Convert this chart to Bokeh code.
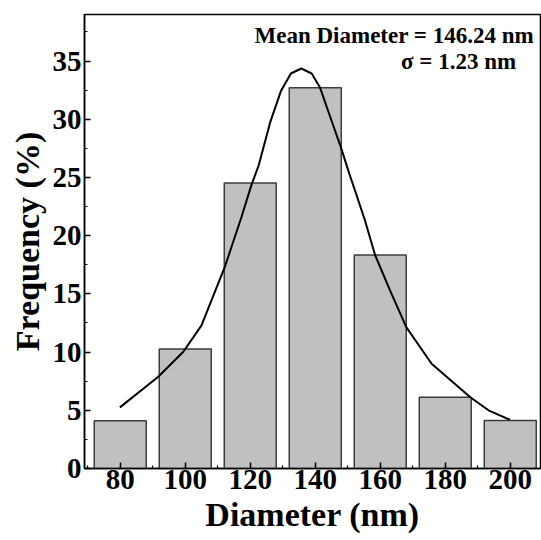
from bokeh.plotting import figure
from bokeh.models import Range1d, SingleIntervalTicker, Label
from bokeh.embed import file_html
from bokeh.resources import INLINE

# ---- data ----
diameters = [80, 100, 120, 140, 160, 180, 200]
frequency = [4.1, 10.26, 24.53, 32.7, 18.34, 6.12, 4.12]

fit_x = [79.9, 91.7, 99.4, 105.0, 112.2, 117.3, 120.3, 122.6, 126.2, 129.4, 132.5,
         135.7, 138.9, 141.5, 144.1, 148.0, 150.5, 152.2, 155.3, 158.4, 163.0,
         168.0, 175.8, 187.8, 193.3, 199.9]
fit_y = [5.25, 7.88, 10.03, 12.3, 17.34, 21.6, 24.3, 26.05, 29.8, 32.4, 33.93,
         34.36, 33.93, 32.7, 30.6, 27.5, 25.3, 23.9, 21.3, 18.34, 15.3,
         12.15, 9.0, 6.1, 5.0, 4.19]

annot_mean = "Mean Diameter = 146.24 nm"
annot_sigma = "σ = 1.23 nm"

FONT = "Liberation Serif"

p = figure(width=541, height=540, output_backend="svg", toolbar_location=None,
           x_range=Range1d(69, 209.3), y_range=Range1d(0, 39),
           min_border_left=84, min_border_right=1, min_border_top=14,
           min_border_bottom=72)

p.vbar(x=diameters, top=frequency, bottom=0, width=16,
       fill_color="#c0c0c0", line_color="#3c3c3c", line_width=1.5)
p.line(fit_x, fit_y, line_color="black", line_width=2)

p.xgrid.visible = False
p.ygrid.visible = False
p.outline_line_color = "black"
p.outline_line_width = 1.5
p.background_fill_color = "white"
p.border_fill_color = "white"

p.xaxis.ticker = SingleIntervalTicker(interval=20, num_minor_ticks=2)
p.yaxis.ticker = SingleIntervalTicker(interval=5, num_minor_ticks=2)

for ax in (p.xaxis[0], p.yaxis[0]):
    ax.axis_line_color = "black"
    ax.axis_line_width = 1.5
    ax.major_tick_in = 6
    ax.major_tick_out = 0
    ax.minor_tick_in = 3
    ax.minor_tick_out = 0
    ax.major_tick_line_width = 1.5
    ax.minor_tick_line_width = 1.2
    ax.major_tick_line_color = "black"
    ax.minor_tick_line_color = "black"
    ax.major_label_text_font = FONT
    ax.major_label_text_font_style = "bold"
    ax.major_label_text_font_size = "29px"
    ax.major_label_text_color = "black"
    ax.axis_label_text_font = FONT
    ax.axis_label_text_font_style = "bold"
    ax.axis_label_text_font_size = "34px"
    ax.axis_label_text_color = "black"

p.xaxis.axis_label = "Diameter (nm)"
p.yaxis.axis_label = "Frequency (%)"
p.xaxis.major_label_standoff = 1
p.yaxis.major_label_standoff = 3
p.xaxis.axis_label_standoff = 4
p.yaxis.axis_label_standoff = 4

p.add_layout(Label(x=207.3, y=37.2, text=annot_mean, text_align="right",
                   text_baseline="alphabetic", text_font=FONT,
                   text_font_style="bold", text_font_size="23px",
                   text_color="black"))
p.add_layout(Label(x=166.4, y=35.0, text=annot_sigma, text_align="left",
                   text_baseline="alphabetic", text_font=FONT,
                   text_font_style="bold", text_font_size="23px",
                   text_color="black"))

open("out.html", "w").write(file_html(p, INLINE))
